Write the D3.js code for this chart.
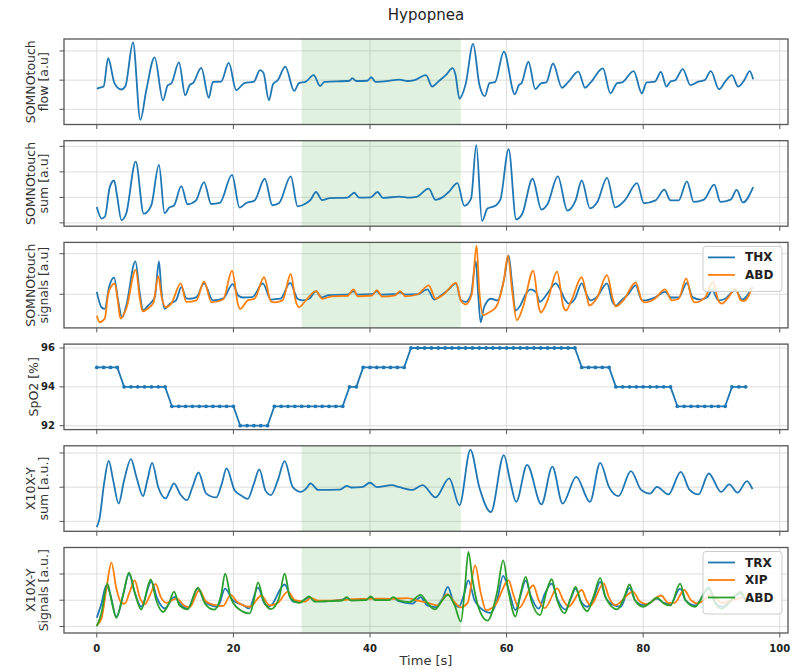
<!DOCTYPE html>
<html>
<head>
<meta charset="utf-8">
<script src="https://cdn.jsdelivr.net/npm/d3@7/dist/d3.min.js"></script>
<style>
  body { margin: 0; background: #fff; }
  svg { display: block; font-family: "DejaVu Sans", sans-serif; }
</style>
</head>
<body>
<div id="chart"></div>
<script>
// time axis and event window, seconds
const timeTicks = [0, 20, 40, 60, 80, 100];
const hypopnea = [30, 53.3];

// SOMNOtouch flow [a.u], [t, value]
const flow = [[0,-0.29],[0.6,-0.25],[1.0,-0.22],[1.66,0.75],[2.6,-0.11],[3.6,-0.32],[4.2,-0.2],[5.3,1.29],[6.38,-1.36],[7.25,-0.34],[8.47,0.78],[9.69,-0.69],[10.4,-0.17],[10.9,-0.12],[12.03,0.61],[12.95,-0.52],[13.6,-0.17],[14.1,-0.1],[15.3,0.42],[16.4,-0.6],[17.0,-0.06],[18.2,-0.05],[19.33,0.59],[20.4,-0.34],[21.6,-0.1],[23.0,-0.05],[23.9,0.34],[24.4,0.25],[25.2,-0.69],[25.8,-0.14],[26.5,0.0],[27.6,0.46],[28.9,-0.37],[29.6,-0.1],[30.6,-0.05],[31.75,0.17],[32.7,-0.2],[33.3,-0.06],[37.0,-0.02],[37.4,0.07],[38.0,-0.03],[39.6,-0.02],[40.2,0.1],[40.8,-0.06],[43.5,0.0],[44.3,0.02],[45.5,-0.03],[46.5,0.0],[48.2,0.17],[49.1,-0.22],[50.1,-0.03],[51.1,0.17],[52.1,0.41],[52.5,0.2],[53.1,-0.63],[54.0,-0.14],[55.1,1.24],[56.0,-0.14],[56.8,-0.55],[57.5,-0.1],[58.3,-0.07],[59.6,0.98],[61.2,-0.48],[61.8,-0.17],[62.2,-0.1],[63.2,0.63],[64.2,-0.31],[65.1,-0.1],[65.8,-0.08],[66.8,0.57],[68.1,-0.26],[69.0,-0.07],[70.5,0.29],[71.5,-0.26],[72.3,-0.08],[74.1,0.4],[75.2,-0.45],[76.2,-0.1],[76.9,-0.08],[78.6,0.31],[79.8,-0.45],[80.5,-0.08],[81.7,-0.05],[82.6,0.28],[83.4,-0.22],[84.0,-0.05],[84.7,0.0],[85.8,0.38],[86.9,-0.17],[88.1,-0.05],[89.0,0.0],[89.9,0.31],[91.1,-0.31],[92.0,-0.05],[93.0,0.17],[93.9,-0.22],[94.8,0.0],[95.6,0.31],[96.1,0.03]];

// SOMNOtouch sum [a.u]
const somSum = [[0,-0.38],[0.7,-0.83],[1.2,-0.75],[1.9,0.4],[2.53,0.66],[3.0,0.01],[3.6,-0.89],[4.3,-0.64],[5.7,1.4],[6.87,-0.64],[7.97,-0.32],[9.1,1.27],[9.93,-0.62],[10.6,-0.4],[11.3,-0.32],[12.37,0.44],[13.3,-0.27],[14.5,-0.13],[15.7,0.6],[16.75,-0.26],[18.0,-0.22],[19.8,0.88],[20.9,-0.4],[21.9,-0.22],[23.1,-0.12],[24.6,0.73],[25.7,-0.31],[26.7,-0.22],[28.4,0.82],[29.4,-0.35],[30.6,-0.24],[31.3,-0.1],[32.1,0.21],[33.0,-0.11],[34.1,-0.03],[36.7,-0.01],[37.7,0.18],[38.4,-0.01],[40.1,0.0],[41.1,0.21],[41.9,-0.02],[44.3,0.03],[45.8,-0.01],[46.8,0.02],[48.6,0.34],[49.6,-0.1],[50.6,0.0],[51.5,0.2],[52.8,0.56],[53.8,-0.33],[54.8,-0.05],[55.56,2.05],[56.4,-0.92],[57.2,-0.44],[58.4,-0.32],[59.1,-0.08],[60.3,1.89],[61.4,-0.86],[62.3,-0.64],[63.8,0.73],[65.1,-0.48],[66.0,-0.26],[67.5,0.82],[68.9,-0.52],[70.1,-0.12],[71.0,0.66],[72.2,-0.43],[73.3,-0.17],[74.7,0.76],[75.9,-0.39],[77.3,-0.12],[79.1,0.56],[80.1,-0.23],[81.8,-0.12],[83.1,0.3],[84.0,-0.12],[85.2,-0.12],[86.4,0.63],[87.4,-0.18],[88.9,-0.09],[90.4,0.5],[91.3,-0.18],[92.8,-0.09],[93.7,0.29],[94.6,-0.2],[96.1,0.4]];

// SOMNOtouch effort signals
const somThx = [[0,0.06],[0.68,-0.32],[1.17,-0.36],[1.8,0.18],[2.53,0.41],[3.12,-0.15],[3.7,-0.57],[4.33,-0.27],[5.65,0.81],[6.3,0.02],[6.77,-0.4],[7.5,-0.28],[8.5,-0.07],[9.1,0.81],[9.45,0.1],[9.93,-0.36],[10.7,-0.23],[11.6,-0.15],[12.4,0.18],[13.1,-0.1],[13.6,-0.11],[14.6,-0.07],[15.7,0.27],[17.0,-0.15],[18.5,-0.11],[19.9,0.25],[20.7,-0.03],[21.4,-0.08],[22.8,-0.07],[24.3,0.27],[25.5,-0.13],[26.9,-0.11],[28.3,0.28],[29.4,-0.11],[30.1,-0.15],[31.1,-0.11],[32.1,0.08],[32.9,-0.08],[34.0,-0.02],[36.7,-0.01],[37.6,0.07],[38.2,-0.01],[40.3,0.0],[41.0,0.07],[41.6,-0.01],[43.7,0.0],[44.4,0.05],[45.2,-0.01],[47.0,0.0],[48.4,0.12],[49.4,-0.13],[50.4,-0.03],[51.4,0.1],[52.6,0.27],[53.3,-0.15],[54.0,-0.19],[54.8,0.0],[55.5,0.81],[55.8,0.1],[56.2,-0.69],[56.7,-0.32],[57.7,-0.11],[58.7,-0.15],[59.6,0.35],[60.3,0.95],[60.8,0.27],[61.3,-0.4],[62.0,-0.28],[62.7,-0.03],[63.5,0.12],[64.3,0.05],[64.9,-0.19],[65.4,-0.11],[66.1,0.05],[67.2,0.27],[67.9,0.1],[68.6,-0.15],[69.1,-0.23],[70.0,-0.11],[71.0,0.27],[71.7,0.0],[72.3,-0.15],[73.2,-0.07],[74.7,0.27],[75.5,-0.19],[76.0,-0.28],[76.8,-0.15],[77.8,0.0],[78.9,0.22],[79.8,-0.15],[80.3,-0.15],[81.7,-0.08],[83.2,0.06],[84.1,-0.08],[85.2,-0.08],[86.4,0.28],[87.2,-0.07],[88.4,-0.13],[89.4,-0.07],[90.1,0.1],[91.0,-0.15],[92.0,-0.11],[93.5,0.1],[94.5,-0.13],[96.0,0.18]];
const somAbd = [[0,-0.53],[0.44,-0.69],[1.17,-0.6],[1.66,0.0],[2.14,0.2],[2.63,0.27],[3.1,-0.2],[3.46,-0.6],[4.33,-0.35],[5.7,0.6],[6.3,-0.1],[6.7,-0.42],[7.5,-0.35],[8.3,-0.2],[9.0,0.45],[9.5,-0.07],[10.1,-0.32],[10.9,-0.23],[12.3,0.27],[13.1,-0.19],[14.6,-0.15],[15.7,0.32],[16.8,-0.2],[18.5,-0.13],[19.8,0.58],[20.7,-0.27],[21.0,-0.36],[22.1,-0.15],[23.1,-0.11],[24.5,0.42],[25.5,-0.18],[26.0,-0.2],[27.2,-0.15],[28.4,0.5],[29.1,-0.15],[29.6,-0.32],[30.6,-0.15],[32.1,0.08],[33.0,-0.11],[34.5,-0.05],[36.7,-0.04],[37.6,0.12],[38.2,-0.05],[40.3,-0.03],[41.0,0.1],[41.8,-0.06],[43.7,-0.03],[44.4,0.08],[45.2,-0.05],[47.0,0.0],[48.6,0.22],[49.6,-0.11],[50.8,0.0],[52.6,0.28],[53.3,-0.15],[54.0,-0.25],[54.9,0.0],[55.6,1.2],[56.0,0.1],[56.6,-0.52],[57.4,-0.45],[58.5,-0.3],[59.6,0.35],[60.2,0.95],[60.8,0.1],[61.5,-0.64],[62.4,-0.32],[63.9,0.58],[64.7,-0.3],[65.0,-0.45],[66.0,-0.15],[67.4,0.56],[68.3,-0.3],[68.7,-0.4],[69.5,-0.15],[71.0,0.42],[71.8,-0.1],[72.1,-0.28],[73.2,-0.1],[74.7,0.47],[75.6,-0.15],[76.0,-0.3],[77.1,-0.15],[78.9,0.29],[79.8,-0.15],[80.3,-0.2],[81.7,-0.11],[83.2,0.12],[84.2,-0.15],[85.2,-0.11],[86.3,0.39],[87.1,-0.1],[87.6,-0.2],[89.1,-0.07],[90.2,0.31],[91.0,-0.15],[91.5,-0.23],[92.5,-0.07],[93.5,0.14],[94.3,-0.15],[94.7,-0.17],[96.0,0.18]];

// SpO2 [%], one sample per second starting at t = 0
const spo2 = [95,95,95,95, 94,94,94,94,94,94,94, 93,93,93,93,93,93,93,93,93,93, 92,92,92,92,92,
  93,93,93,93,93,93,93,93,93,93,93, 94,94, 95,95,95,95,95,95,95,
  96,96,96,96,96,96,96,96,96,96,96,96,96,96,96,96,96,96,96,96,96,96,96,96,96,
  95,95,95,95,95, 94,94,94,94,94,94,94,94,94, 93,93,93,93,93,93,93,93, 94,94,94];
const spo2Ticks = [92, 94, 96];

// X10X-Y sum [a.u.]
const xSum = [[0,-1.17],[0.4,-0.92],[1.07,0.11],[1.75,0.77],[2.4,0.2],[3.2,-0.48],[4.0,0.2],[5.0,0.82],[5.8,0.3],[6.77,-0.26],[7.4,0.2],[8.1,0.71],[9.0,0.0],[10.1,-0.33],[10.7,-0.1],[11.3,0.11],[12.2,-0.2],[13.2,-0.38],[14.0,0.0],[14.9,0.43],[16.0,-0.18],[17.5,-0.3],[18.3,0.1],[19.0,0.55],[20.2,-0.1],[21.2,-0.25],[22.1,-0.34],[23.0,0.1],[23.8,0.52],[24.7,-0.1],[25.5,-0.23],[26.5,0.2],[27.5,0.76],[28.7,0.0],[29.9,-0.14],[30.6,-0.05],[31.3,0.11],[32.4,-0.08],[35.6,-0.07],[36.6,0.04],[37.3,-0.01],[38.8,0.0],[40.0,0.13],[41.0,0.0],[43.2,0.06],[44.3,0.0],[46.2,-0.08],[47.7,0.06],[49.6,-0.3],[51.6,0.26],[53.1,-0.53],[54.7,1.09],[56.0,0.0],[57.7,-0.73],[59.6,0.94],[60.5,0.2],[61.4,-0.43],[63.0,0.65],[65.1,-0.5],[66.7,0.6],[68.2,-0.48],[70.2,0.3],[72.2,-0.43],[73.7,0.71],[75.0,0.0],[76.4,-0.26],[78.2,0.47],[79.7,-0.08],[81.0,-0.19],[82.0,0.01],[83.7,-0.21],[85.5,0.45],[86.8,-0.08],[88.1,-0.21],[89.6,0.4],[91.4,-0.14],[92.6,0.08],[93.8,-0.16],[95.2,0.18],[96.0,-0.06]];

// X10X-Y signals [a.u.]
const xTrx = [[0,-0.67],[0.68,-0.13],[1.41,0.57],[1.9,0.3],[2.87,-0.63],[3.85,0.2],[4.72,1.01],[5.55,0.3],[6.5,-0.25],[8.0,0.72],[8.8,0.1],[9.93,-0.31],[11.4,0.13],[12.2,-0.15],[13.3,-0.31],[14.8,0.44],[15.8,-0.05],[17.7,-0.25],[18.8,0.44],[19.9,0.0],[21.5,-0.2],[22.3,-0.31],[23.6,0.48],[24.6,-0.15],[25.3,-0.23],[27.5,0.6],[28.7,-0.05],[29.7,-0.06],[31.1,0.1],[31.9,-0.02],[33.3,-0.04],[35.9,0.02],[36.6,0.1],[37.2,0.0],[39.4,0.02],[40.1,0.12],[40.8,0.0],[42.8,0.03],[43.4,0.1],[44.2,-0.04],[46.2,-0.13],[47.4,0.12],[48.4,-0.2],[49.6,-0.26],[50.6,0.05],[51.4,0.51],[52.2,-0.05],[53.0,-0.26],[53.8,0.25],[54.4,0.76],[55.3,0.0],[56.2,-0.3],[57.7,-0.48],[58.6,0.0],[59.5,0.93],[60.3,0.4],[61.3,-0.38],[62.0,0.15],[62.8,0.76],[63.5,0.2],[64.7,-0.32],[65.6,0.25],[66.6,0.63],[67.5,0.0],[68.6,-0.36],[69.4,0.05],[70.1,0.44],[70.9,-0.05],[71.8,-0.25],[72.8,0.1],[73.7,0.7],[74.5,0.1],[75.4,-0.15],[76.7,-0.25],[78.0,0.47],[78.8,0.0],[80.0,-0.18],[81.0,-0.1],[82.0,0.06],[83.0,-0.1],[84.0,-0.15],[85.4,0.44],[86.2,0.0],[87.6,-0.2],[89.6,0.44],[90.5,-0.05],[91.5,-0.25],[94.3,0.25],[95.2,-0.05],[96.0,0.0]];
const xXip = [[0,-0.95],[0.68,-0.7],[1.41,0.44],[2.14,1.43],[2.87,0.44],[3.6,-0.1],[4.1,-0.13],[4.8,0.3],[5.55,0.76],[6.3,0.1],[7.0,-0.16],[7.8,0.2],[8.6,0.62],[9.4,0.1],[10.2,-0.1],[11.0,0.0],[11.7,0.06],[12.8,-0.2],[13.6,-0.27],[15.0,0.38],[16.0,-0.05],[17.5,-0.2],[18.5,-0.22],[19.6,0.2],[20.5,-0.05],[22.4,-0.25],[24.1,0.17],[25.3,-0.2],[26.5,-0.1],[28.0,0.33],[29.0,0.0],[30.5,-0.05],[31.3,0.08],[32.5,-0.02],[36.0,0.0],[37.5,0.04],[39.0,0.05],[41.0,0.06],[43.0,0.05],[45.5,0.08],[47.0,-0.02],[48.5,-0.1],[49.9,-0.2],[51.3,0.23],[52.3,-0.05],[53.3,-0.27],[54.3,-0.1],[55.4,1.33],[56.2,0.3],[57.0,-0.38],[58.3,-0.2],[60.3,0.76],[61.0,0.2],[61.8,-0.3],[63.9,0.57],[64.7,0.0],[65.6,-0.3],[67.4,0.45],[68.3,0.0],[69.1,-0.24],[71.0,0.39],[71.7,0.0],[72.3,-0.2],[74.2,0.64],[75.0,0.1],[75.9,-0.19],[78.5,0.33],[79.5,-0.05],[80.5,-0.15],[82.6,0.18],[83.7,-0.1],[84.6,-0.1],[86.0,0.39],[87.0,0.0],[88.0,-0.12],[90.0,0.2],[91.5,-0.1],[94.6,0.1],[96.0,0.0]];
const xAbd = [[0,-1.0],[0.68,-0.5],[1.56,0.63],[2.14,0.0],[2.87,-0.67],[3.85,0.2],[4.72,1.05],[5.55,0.3],[6.5,-0.35],[7.9,0.79],[8.7,0.0],[9.7,-0.45],[10.6,-0.1],[11.3,0.33],[12.1,-0.2],[13.3,-0.35],[14.8,0.48],[15.9,-0.15],[17.2,-0.36],[18.2,0.2],[18.8,1.01],[19.6,0.1],[20.4,-0.25],[22.4,-0.5],[23.0,0.0],[23.6,0.68],[24.4,0.0],[25.5,-0.34],[26.7,0.1],[27.5,1.01],[28.3,0.1],[29.7,-0.1],[31.1,0.15],[31.9,-0.05],[33.3,-0.04],[35.9,-0.01],[36.6,0.12],[37.2,-0.01],[39.4,0.0],[40.1,0.15],[40.8,0.0],[42.8,0.0],[43.4,0.12],[44.2,-0.01],[45.8,-0.07],[47.4,0.2],[48.4,-0.1],[49.5,-0.35],[50.6,0.0],[51.4,0.2],[52.4,-0.2],[53.3,-0.82],[53.9,0.5],[54.4,1.84],[55.0,0.8],[55.8,-0.2],[57.2,-0.78],[58.6,0.3],[59.5,1.52],[60.3,0.3],[61.3,-0.62],[62.0,0.2],[62.8,0.89],[63.6,0.0],[64.9,-0.57],[65.8,0.3],[66.6,0.8],[67.4,0.0],[68.5,-0.5],[69.4,0.1],[70.1,0.51],[70.9,-0.1],[71.8,-0.42],[72.8,0.2],[73.7,0.85],[74.5,0.1],[76.2,-0.35],[77.2,0.1],[78.0,0.6],[78.8,0.0],[80.0,-0.25],[81.0,-0.1],[82.0,0.1],[83.0,-0.12],[84.0,-0.2],[85.4,0.63],[86.2,0.0],[87.6,-0.25],[89.6,0.5],[90.5,-0.1],[91.5,-0.32],[94.3,0.32],[95.2,-0.05],[96.0,0.0]];

const blue = "#1f77b4", orange = "#ff7f0e", green = "#2ca02c";

const panels = [
    { label: ["SOMNOtouch", "flow [a.u]"], domain: [-1.52, 1.41], ticks: [-1, 0, 1], shade: true,
      series: [{ data: flow, color: blue }] },
    { label: ["SOMNOtouch", "sum [a.u]"], domain: [-1.13, 2.22], ticks: [-1, 0, 1, 2], shade: true,
      series: [{ data: somSum, color: blue }] },
    { label: ["SOMNOtouch", "signals [a.u]"], domain: [-0.83, 1.28], ticks: [0, 1], shade: true,
      series: [{ data: somThx, color: blue, name: "THX" }, { data: somAbd, color: orange, name: "ABD" }] },
    { label: ["SpO2 [%]"], domain: [91.8, 96.2], ticks: spo2Ticks, tickLabels: true, step: true,
      series: [{ data: spo2.map((v, i) => [i, v]), color: blue }] },
    { label: ["X10X-Y", "sum [a.u.]"], domain: [-1.29, 1.21], ticks: [-1, 0, 1], shade: true,
      series: [{ data: xSum, color: blue }] },
    { label: ["X10X-Y", "Signals [a.u.]"], domain: [-1.25, 2.01], ticks: [-1, 0, 1], shade: true,
      series: [{ data: xTrx, color: blue, name: "TRX" }, { data: xXip, color: orange, name: "XIP" },
               { data: xAbd, color: green, name: "ABD" }] }
];

const width = 798, height = 669;
const left = 64, right = 788, firstTop = 39, panelH = 85.5, panelStep = 101.7;

const svg = d3.select("#chart").append("svg")
    .attr("width", width)
    .attr("height", height);

const x = d3.scaleLinear().domain([-4.8, 101.2]).range([left, right]);

svg.append("text")
    .attr("x", (left + right) / 2)
    .attr("y", 15)
    .attr("text-anchor", "middle")
    .attr("dominant-baseline", "central")
    .style("font-size", "15px")
    .style("fill", "#222")
    .text("Hypopnea");

panels.forEach((p, i) => {
    const top = firstTop + i * panelStep;
    const bottom = top + panelH;
    const y = d3.scaleLinear().domain(p.domain).range([bottom, top]);
    const g = svg.append("g").attr("class", `panel panel-${i}`);

    g.append("clipPath").attr("id", `clip-${i}`)
        .append("rect")
        .attr("x", left).attr("y", top)
        .attr("width", right - left).attr("height", panelH);

    // grid
    g.selectAll(".vgrid").data(timeTicks).enter().append("line")
        .attr("x1", d => x(d)).attr("x2", d => x(d))
        .attr("y1", top).attr("y2", bottom)
        .style("stroke", "#d9d9d9").style("stroke-width", 0.9);
    g.selectAll(".hgrid").data(p.ticks).enter().append("line")
        .attr("x1", left).attr("x2", right)
        .attr("y1", d => y(d)).attr("y2", d => y(d))
        .style("stroke", "#d9d9d9").style("stroke-width", 0.9);

    if (p.shade) {
        g.append("rect")
            .attr("x", x(hypopnea[0]))
            .attr("y", top)
            .attr("width", x(hypopnea[1]) - x(hypopnea[0]))
            .attr("height", panelH)
            .style("fill", green)
            .style("fill-opacity", 0.15);
    }

    const line = d3.line()
        .x(d => x(d[0]))
        .y(d => y(d[1]))
        .curve(p.step ? d3.curveLinear : d3.curveMonotoneX);

    const plot = g.append("g").attr("clip-path", `url(#clip-${i})`);
    p.series.forEach(s => {
        plot.append("path")
            .datum(s.data)
            .attr("d", line)
            .style("fill", "none")
            .style("stroke", s.color)
            .style("stroke-width", 1.8)
            .style("stroke-linejoin", "round");
        if (p.step) {
            plot.selectAll(".dot").data(s.data).enter().append("circle")
                .attr("cx", d => x(d[0]))
                .attr("cy", d => y(d[1]))
                .attr("r", 1.9)
                .style("fill", s.color);
        }
    });

    // frame
    g.append("rect")
        .attr("x", left).attr("y", top)
        .attr("width", right - left).attr("height", panelH)
        .style("fill", "none")
        .style("stroke", "#555")
        .style("stroke-width", 1.3);

    // tick marks
    g.selectAll(".xtick").data(timeTicks).enter().append("line")
        .attr("x1", d => x(d)).attr("x2", d => x(d))
        .attr("y1", bottom).attr("y2", bottom + 4.5)
        .style("stroke", "#555").style("stroke-width", 1);
    g.selectAll(".ytick").data(p.ticks).enter().append("line")
        .attr("x1", left - 4.5).attr("x2", left)
        .attr("y1", d => y(d)).attr("y2", d => y(d))
        .style("stroke", "#555").style("stroke-width", 1);

    if (p.tickLabels) {
        g.selectAll(".ylab").data(p.ticks).enter().append("text")
            .attr("x", left - 9)
            .attr("y", d => y(d))
            .attr("text-anchor", "end")
            .attr("dominant-baseline", "central")
            .style("font-size", "10px")
            .style("font-weight", "bold")
            .style("fill", "#222")
            .text(d => d);
    }

    // y label, one or two lines
    const cy = (top + bottom) / 2;
    const lineX = p.label.length > 1 ? [30, 43] : [33];
    p.label.forEach((t, k) => {
        g.append("text")
            .attr("transform", `translate(${lineX[k]},${cy}) rotate(-90)`)
            .attr("text-anchor", "middle")
            .attr("dominant-baseline", "central")
            .style("font-size", "12.5px")
            .style("fill", "#333")
            .text(t);
    });

    // legend
    const named = p.series.filter(s => s.name);
    if (named.length) {
        const lw = 79, lh = 10 + named.length * 17.5;
        const lx = right - 6 - lw, ly = top + 4;
        const leg = g.append("g").attr("transform", `translate(${lx},${ly})`);
        leg.append("rect")
            .attr("width", lw).attr("height", lh)
            .attr("rx", 3)
            .style("fill", "#fff").style("fill-opacity", 0.8)
            .style("stroke", "#ccc").style("stroke-width", 1);
        named.forEach((s, k) => {
            const ry = 11 + k * 17.5;
            leg.append("line")
                .attr("x1", 5).attr("x2", 32)
                .attr("y1", ry).attr("y2", ry)
                .style("stroke", s.color).style("stroke-width", 1.8);
            leg.append("text")
                .attr("x", 42).attr("y", ry)
                .attr("dominant-baseline", "central")
                .style("font-size", "12px")
                .style("font-weight", "bold")
                .style("fill", "#222")
                .text(s.name);
        });
    }

    if (i === panels.length - 1) {
        g.selectAll(".xlab").data(timeTicks).enter().append("text")
            .attr("x", d => x(d))
            .attr("y", bottom + 15)
            .attr("text-anchor", "middle")
            .attr("dominant-baseline", "central")
            .style("font-size", "10px")
            .style("font-weight", "bold")
            .style("fill", "#222")
            .text(d => d);
        g.append("text")
            .attr("x", (left + right) / 2)
            .attr("y", bottom + 27)
            .attr("text-anchor", "middle")
            .attr("dominant-baseline", "central")
            .style("font-size", "13px")
            .style("fill", "#333")
            .text("Time [s]");
    }
});
</script>
</body>
</html>
